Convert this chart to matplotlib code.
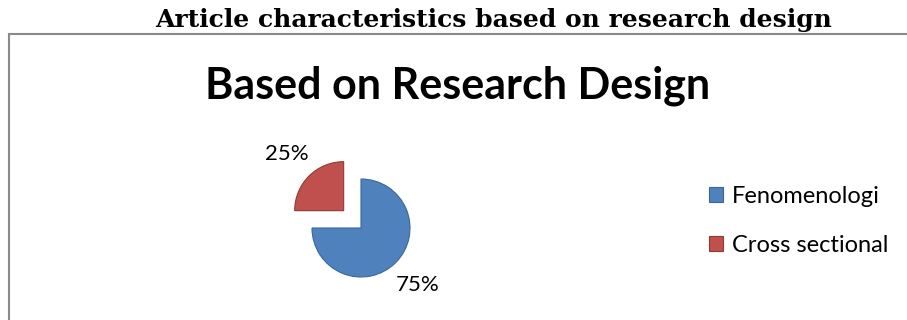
import matplotlib.pyplot as plt
from matplotlib.patches import Rectangle

# Research design breakdown of the reviewed articles
designs = ['Fenomenologi', 'Cross sectional']
shares = [75, 25]
colors = ['#4F81BD', '#C0504D']
edges = ['#3B6699', '#8E3A37']

caption = 'Article characteristics based on research design'
title = 'Based on Research Design'

W, H = 907, 320
fig = plt.figure(figsize=(W / 100, H / 100), dpi=100)

# caption above the chart frame
fig.text(494 / W, 1 - 20 / H, caption, ha='center', va='center',
         family='DejaVu Serif', fontweight='bold', fontsize=18)

# chart frame, open to the right and bottom edges
frame = Rectangle((9 / W, -0.1), 1.2, 1 - 34 / H + 0.1, transform=fig.transFigure,
                  fill=False, edgecolor='#8a8a8a', linewidth=1.5, clip_on=False)
fig.add_artist(frame)

fig.text(458 / W, 1 - 86 / H, title, ha='center', va='center',
         family='Lato', fontweight='bold', fontsize=31)

# pie axes: 1 data unit = 49 px, centred on the pie
r_px = 49
L = 2.0
cx, cy = 361, 228
side = 2 * L * r_px
ax = fig.add_axes([(cx - side / 2) / W, 1 - (cy + side / 2) / H, side / W, side / H])
wedges, texts, autotexts = ax.pie(
    shares, colors=colors, startangle=90, counterclock=False,
    explode=[0, 0.5], autopct='%d%%', pctdistance=1.64,
    wedgeprops=dict(linewidth=0.8),
    textprops=dict(family='Lato', fontsize=16, color='black'))
for w, ec in zip(wedges, edges):
    w.set_edgecolor(ec)
ax.set_xlim(-L, L)
ax.set_ylim(-L, L)
ax.set_aspect('equal')
ax.axis('off')

leg = fig.legend(wedges, designs, loc='center left',
                 bbox_to_anchor=(688 / W, 1 - 221 / H),
                 frameon=False, handlelength=0.6, handleheight=0.6,
                 handletextpad=0.35, labelspacing=1.17,
                 prop=dict(family='Lato', size=17))

fig.savefig('out.png', dpi=100)
